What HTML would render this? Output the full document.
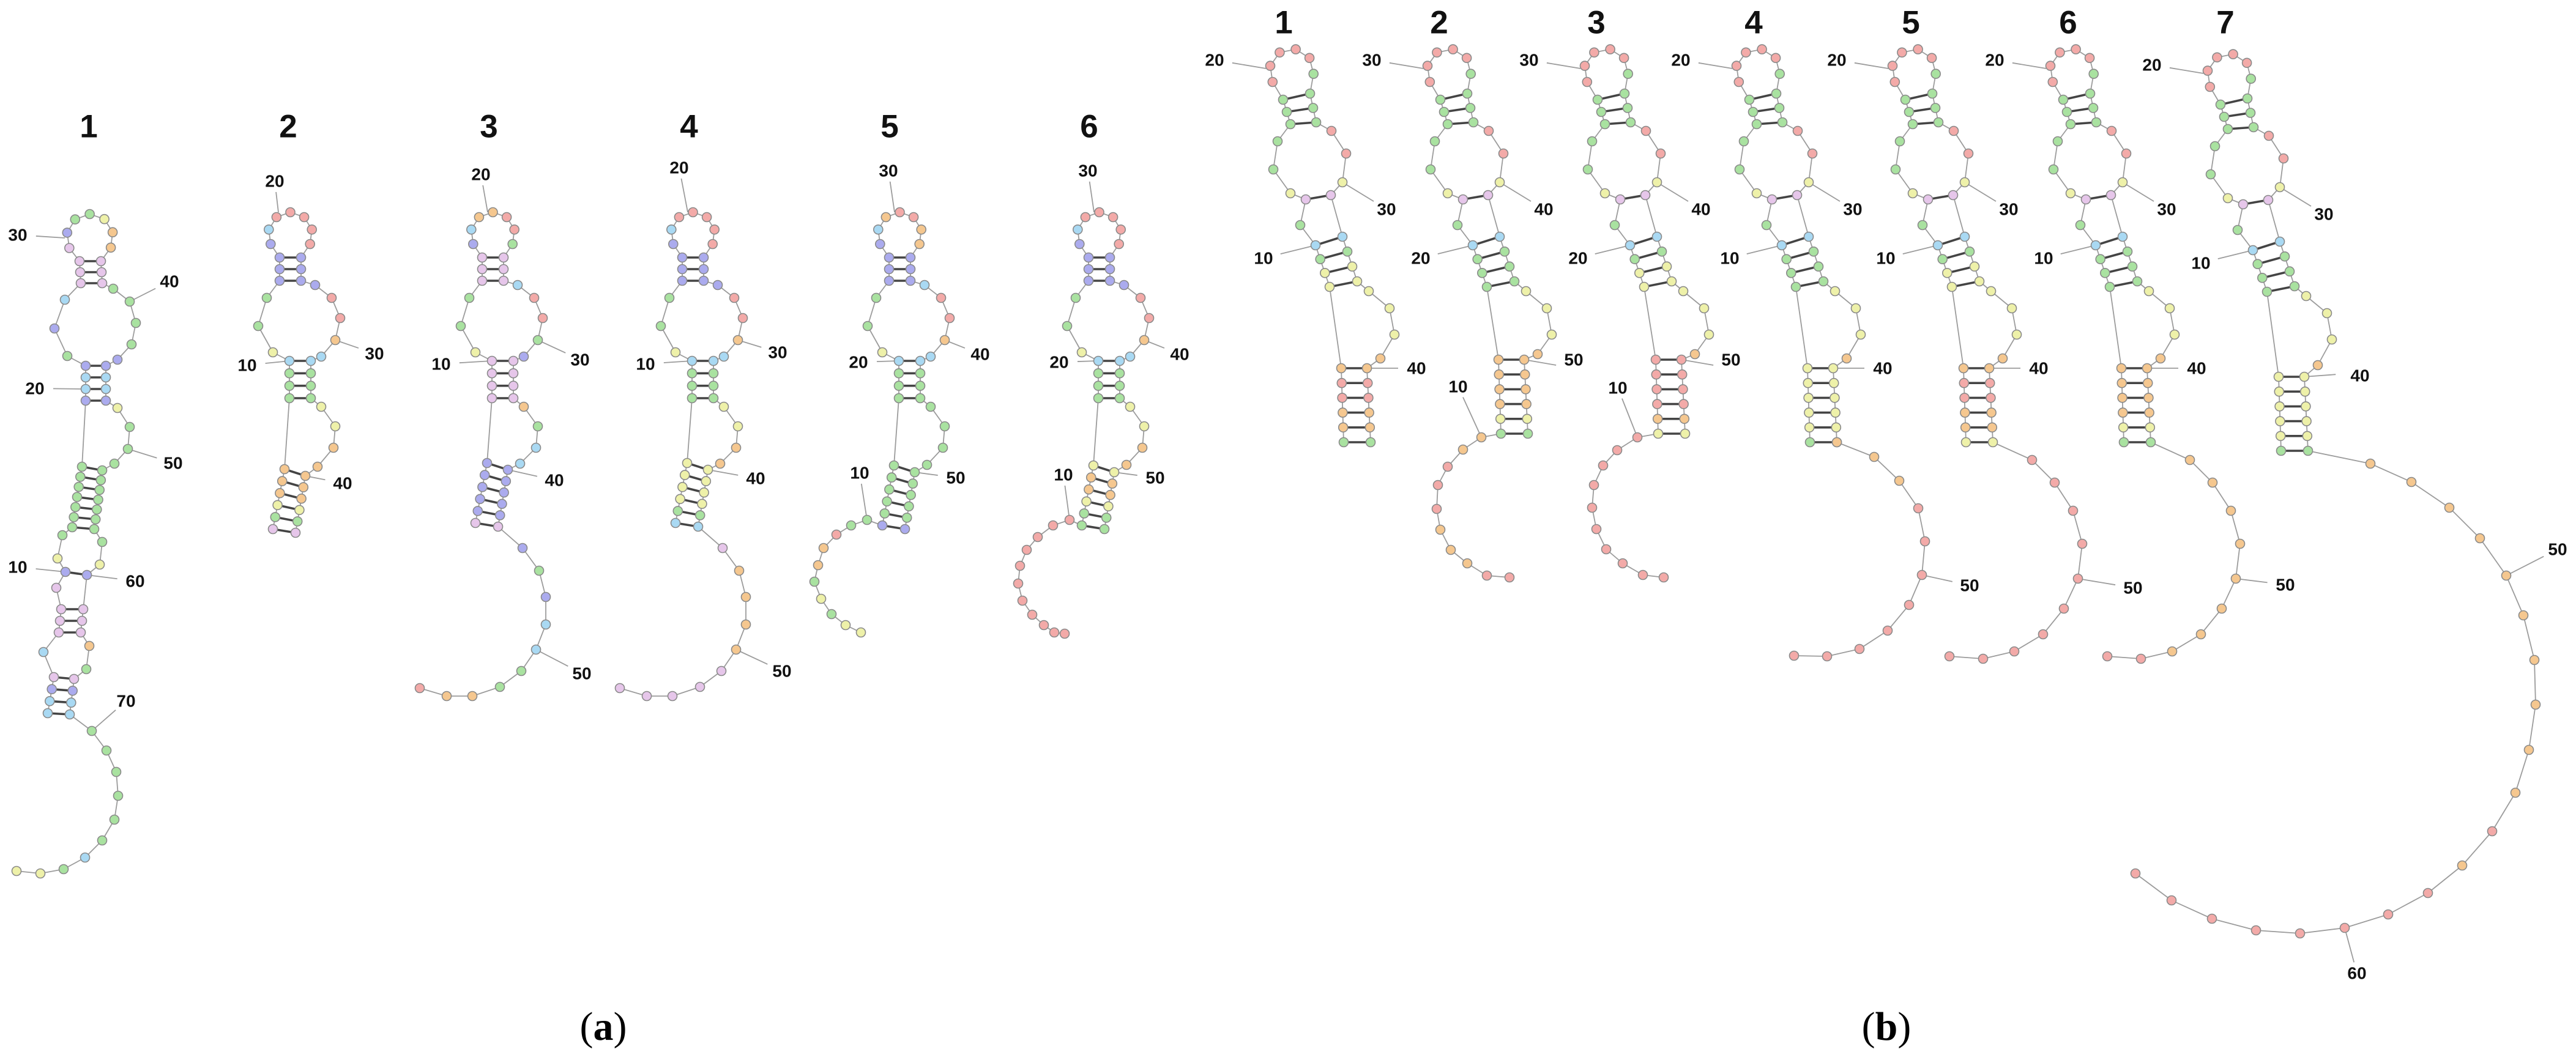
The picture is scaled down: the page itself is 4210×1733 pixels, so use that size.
<!DOCTYPE html>
<html><head><meta charset="utf-8"><style>
html,body{margin:0;padding:0;background:#fff;}
svg{display:block;}
.t{font-family:"Liberation Sans",Arial,sans-serif;font-weight:bold;font-size:53px;text-anchor:middle;dominant-baseline:central;fill:#111;}
.l{font-family:"Liberation Sans",Arial,sans-serif;font-weight:bold;font-size:28px;text-anchor:middle;dominant-baseline:central;fill:#111;}
.c{font-family:"Liberation Serif","Times New Roman",serif;font-size:66px;text-anchor:middle;fill:#000;}
</style></head><body>
<svg id="s" xmlns="http://www.w3.org/2000/svg" width="4210" height="1733" viewBox="0 0 4210 1733">
<rect width="4210" height="1733" fill="#fff"/>
<g id="g"></g>
<g>
<text class="t" x="145" y="207">1</text><text class="t" x="471" y="207">2</text><text class="t" x="799" y="207">3</text>
<text class="t" x="1126" y="207">4</text><text class="t" x="1454" y="207">5</text><text class="t" x="1780" y="207">6</text>
<text class="t" x="2098" y="37">1</text><text class="t" x="2352" y="37">2</text><text class="t" x="2609" y="37">3</text>
<text class="t" x="2866" y="37">4</text><text class="t" x="3123" y="37">5</text><text class="t" x="3380" y="37">6</text><text class="t" x="3637" y="37">7</text>

<text class="l" x="29" y="384">30</text><text class="l" x="277" y="460">40</text><text class="l" x="57" y="635">20</text><text class="l" x="283" y="757">50</text><text class="l" x="29" y="927">10</text><text class="l" x="221" y="950">60</text><text class="l" x="206" y="1146">70</text>
<text class="l" x="449" y="296">20</text><text class="l" x="404" y="597">10</text><text class="l" x="612" y="578">30</text><text class="l" x="560" y="790">40</text>
<text class="l" x="786" y="285">20</text><text class="l" x="721" y="595">10</text><text class="l" x="948" y="588">30</text><text class="l" x="906" y="785">40</text><text class="l" x="951" y="1101">50</text>
<text class="l" x="1110" y="274">20</text><text class="l" x="1055" y="595">10</text><text class="l" x="1271" y="576">30</text><text class="l" x="1235" y="782">40</text><text class="l" x="1278" y="1097">50</text>
<text class="l" x="1452" y="279">30</text><text class="l" x="1403" y="592">20</text><text class="l" x="1602" y="579">40</text><text class="l" x="1562" y="781">50</text><text class="l" x="1405" y="773">10</text>
<text class="l" x="1778" y="279">30</text><text class="l" x="1731" y="592">20</text><text class="l" x="1928" y="579">40</text><text class="l" x="1888" y="781">50</text><text class="l" x="1738" y="776">10</text>

<text class="l" x="1985" y="98">20</text><text class="l" x="2266" y="342">30</text><text class="l" x="2065" y="422">10</text><text class="l" x="2315" y="602">40</text>
<text class="l" x="2242" y="98">30</text><text class="l" x="2523" y="342">40</text><text class="l" x="2322" y="422">20</text><text class="l" x="2572" y="588">50</text><text class="l" x="2383" y="632">10</text>
<text class="l" x="2499" y="98">30</text><text class="l" x="2780" y="342">40</text><text class="l" x="2579" y="422">20</text><text class="l" x="2829" y="588">50</text><text class="l" x="2644" y="634">10</text>
<text class="l" x="2747" y="98">20</text><text class="l" x="3028" y="342">30</text><text class="l" x="2827" y="422">10</text><text class="l" x="3077" y="602">40</text><text class="l" x="3219" y="957">50</text>
<text class="l" x="3002" y="98">20</text><text class="l" x="3283" y="342">30</text><text class="l" x="3082" y="422">10</text><text class="l" x="3332" y="602">40</text><text class="l" x="3486" y="961">50</text>
<text class="l" x="3260" y="98">20</text><text class="l" x="3541" y="342">30</text><text class="l" x="3340" y="422">10</text><text class="l" x="3590" y="602">40</text><text class="l" x="3735" y="956">50</text>
<text class="l" x="3517" y="106">20</text><text class="l" x="3798" y="350">30</text><text class="l" x="3597" y="430">10</text><text class="l" x="3857" y="614">40</text><text class="l" x="4180" y="898">50</text><text class="l" x="3852" y="1591">60</text>

<text class="c" x="986" y="1700">(<tspan font-weight="bold">a</tspan>)</text>
<text class="c" x="3083" y="1700">(<tspan font-weight="bold">b</tspan>)</text>
</g>
</svg>
<script>
const R='#f3aaa8',G='#a9e2a0',B='#ababee',LB='#a9d9f3',Y='#eef1a9',O='#f5c78f',P='#e6c6ea';
let L=[],BR=[],N=[];
const col=(c,i)=>Array.isArray(c)?c[i%c.length]:c;
function line(a,b){L.push(`<line x1="${a[0]}" y1="${a[1]}" x2="${b[0]}" y2="${b[1]}" stroke="#9c9c9c" stroke-width="1.8"/>`);}
function bar(a,b){BR.push(`<line x1="${a[0]}" y1="${a[1]}" x2="${b[0]}" y2="${b[1]}" stroke="#444" stroke-width="3.6"/>`);}
function nd(p,c){N.push(`<circle cx="${p[0].toFixed(1)}" cy="${p[1].toFixed(1)}" r="7.5" fill="${c}" stroke="#8a8a8a" stroke-width="1.6"/>`);}
function chain(pts,c,skipF,skipL){let k=0;for(let i=0;i<pts.length;i++){if(i>0)line(pts[i-1],pts[i]);}
 for(let i=0;i<pts.length;i++){if(i==0&&skipF)continue;if(i==pts.length-1&&skipL)continue;nd(pts[i],col(c,k++));}}
function ladder(lt,rt,lb,rb,n,c){let pl=null,pr=null;const ps=[];
 for(let i=0;i<n;i++){const t=n>1?i/(n-1):0;const l=[lt[0]+(lb[0]-lt[0])*t,lt[1]+(lb[1]-lt[1])*t],r=[rt[0]+(rb[0]-rt[0])*t,rt[1]+(rb[1]-rt[1])*t];
 bar(l,r);if(pl){line(pl,l);line(pr,r);}pl=l;pr=r;ps.push([l,r,col(c,i)]);}
 ps.forEach(p=>{nd(p[0],p[2]);nd(p[1],p[2]);});}
function loop(cen,r,st,en,n,c){let a0=Math.atan2(st[1]-cen[1],st[0]-cen[0]),a1=Math.atan2(en[1]-cen[1],en[0]-cen[0]);
 while(a1<=a0)a1+=2*Math.PI;const pts=[st];for(let i=1;i<=n;i++){const a=a0+(a1-a0)*i/(n+1);pts.push([cen[0]+r*Math.cos(a),cen[1]+r*Math.sin(a)]);}
 pts.push(en);chain(pts,c,true,true);}
function lead(lx,ly,nx,ny){const dx=nx-lx,dy=ny-ly,d=Math.hypot(dx,dy),ux=dx/d,uy=dy/d;
 const k=1/Math.sqrt((ux/30)**2+(uy/18)**2);line([lx+ux*k,ly+uy*k],[nx,ny]);}

/* ---------- a1 ---------- */
loop([147,388],38,[130,427],[165,427],7,[P,B,G,G,Y,O,O]);
ladder([130,427],[165,427],[132,463],[167,463],3,P);
chain([[132,463],[106,490],[89,537],[110,582],[140,598]],[LB,B,G],true,true);
chain([[173,598],[192,588],[215,563],[222,528],[212,493],[185,472],[167,463]],[B,G,G,G,G,P],true,true);
ladder([140,598],[173,598],[140,655],[173,655],4,[B,LB,LB,B]);
chain([[173,655],[192,667],[212,698],[209,734],[187,758],[167,769]],[Y,G,G,G],true,true);
line([140,655],[134,763]);
ladder([134,763],[167,769],[118,862],[154,865],7,G);
chain([[118,862],[102,875],[94,913],[107,935]],[G,Y,B],true,false);
chain([[154,865],[167,886],[163,923],[142,940]],[G,Y,B],true,false);
bar([107,935],[142,940]);
chain([[107,935],[92,961],[100,996]],[P],true,true);
line([142,940],[136,996]);
ladder([100,996],[136,996],[96,1034],[132,1034],3,P);
chain([[96,1034],[71,1066],[88,1107]],[LB],true,true);
chain([[132,1034],[146,1056],[141,1094],[121,1110]],[O,G],true,true);
ladder([88,1107],[121,1110],[78,1166],[114,1168],4,[P,B,LB,LB]);
chain([[114,1168],[150,1195],[174,1227],[190,1262],[193,1301],[187,1340],[167,1374],[139,1402],[104,1421],[66,1428],[27,1424]],[G,G,G,G,G,G,LB,G,Y,Y],true,false);
[[29,384,106,389],[277,460,212,493],[57,635,140,636],[283,757,209,734],[29,927,107,935],[221,950,142,940],[206,1146,150,1195]].forEach(a=>lead(...a));

/* ---------- template A ---------- */
function drawA(dx,dy3,c,tail,fromLeft){
 const s=(x,y,d=0)=>[x+dx,y+d];
 loop([805.5+dx,383],36,s(788,421),s(823,421),7,c.top);
 ladder(s(788,421),s(823,421),s(788,459),s(823,459),3,c.s1);
 chain([s(788,459),s(767,487),s(753,533),s(777,576),s(804,590)],c.left,true,true);
 chain([s(839,590),s(856,583),s(879,556),s(887,520),s(873,487),s(846,466),s(823,459)],c.right,true,true);
 ladder(s(804,590),s(839,590),s(804,651),s(839,651),4,c.s2);
 chain([s(839,651),s(856,665),s(879,697),s(876,732),s(850,758,dy3*0.5),s(830,768,dy3)],c.bulge,true,true);
 line(s(804,651),s(796,757,dy3));
 ladder(s(796,757,dy3),s(830,768,dy3),s(777,855,dy3),s(814,861,dy3),6,c.s3);
 if(tail)chain([fromLeft?s(777,855,dy3):s(814,861,dy3)].concat(tail),c.tail,true,false);
}
const a3tail=[[854,896],[881,933],[892,976],[892,1021],[876,1062],[852,1097],[817,1123],[772,1138],[730,1138],[686,1125]];
drawA(-331,10,{top:[B,LB,R,R,R,R,R],s1:B,left:[G,G,Y],right:[LB,O,R,R,B],s2:[LB,G,G,G],bulge:[Y,Y,O,O],s3:[O,O,O,Y,G,P]},null);
drawA(0,0,{top:[B,LB,O,O,R,R,G],s1:P,left:[G,G,Y],right:[B,G,R,R,LB],s2:P,bulge:[O,G,LB,LB],s3:[B,B,B,B,B,P],tail:[B,G,B,LB,LB,G,G,O,O,R]},a3tail,false);
drawA(327,0,{top:[B,LB,R,R,R,R,R],s1:B,left:[G,G,Y],right:[LB,O,R,R,B],s2:[LB,G,G,G],bulge:[Y,Y,O,O],s3:[Y,Y,Y,Y,G,LB],tail:[P,O,O,O,O,P,P,P,P,P]},a3tail.map(p=>[p[0]+327,p[1]]),false);
drawA(665,4,{top:[B,LB,O,R,R,O,O],s1:B,left:[G,G,Y],right:[LB,O,R,R,LB],s2:[LB,G,G,G],bulge:G,s3:[G,G,G,G,G,B],tail:[G,G,R,O,O,G,Y,G,Y,Y]},[[1417,850],[1391,859],[1367,874],[1346,896],[1337,924],[1331,951],[1342,979],[1359,1004],[1382,1022],[1407,1034]],true);
drawA(991,4,{top:[B,LB,R,R,R,R,R],s1:B,left:[G,G,Y],right:[LB,O,R,R,B],s2:[LB,G,G,G],bulge:[Y,Y,O,O],s3:[Y,O,O,Y,G,G],tail:R},[[1748,850],[1721,859],[1696,878],[1678,899],[1667,925],[1664,954],[1671,982],[1687,1005],[1706,1022],[1723,1034],[1740,1036]],true);
[[449,296,455,347],[404,597,474,590],[612,578,548,556],[560,790,499,778],
 [786,285,797,347],[721,595,804,590],[948,588,879,556],[906,785,830,768],[951,1101,876,1062],
 [1110,274,1124,347],[1055,595,1131,590],[1271,576,1206,556],[1235,782,1157,768],[1278,1097,1203,1062],
 [1452,279,1462,347],[1403,592,1469,590],[1602,579,1544,556],[1562,781,1495,772],[1405,773,1417,850],
 [1778,279,1788,347],[1731,592,1795,590],[1928,579,1870,556],[1888,781,1821,772],[1738,776,1748,850]].forEach(a=>lead(...a));

/* ---------- template B ---------- */
function drawB(dx,dy,dy3,c,tail,fromLeft){
 const s=(x,y,d=0)=>[x+dx,y+dy+d];
 loop([3128+dx,116+dy],36,s(3114,163),s(3158,153),6,[R,R,R,R,R,G]);
 ladder(s(3114,163),s(3158,153),s(3126,203),s(3168,200),3,G);
 chain([s(3126,203),s(3105,231),s(3098,277),s(3126,316),s(3151,326)],[G,G,Y],true,true);
 chain([s(3192,319),s(3211,298),s(3217,251),s(3193,214),s(3168,200)],[Y,R,R],true,true);
 bar(s(3151,326),s(3192,319));nd(s(3151,326),P);nd(s(3192,319),P);
 chain([s(3151,326),s(3142,368),s(3167,401)],[G],true,true);
 line(s(3192,319),s(3211,387));
 ladder(s(3167,401),s(3211,387),s(3190,469),s(3235,460),4,c.s2);
 chain([s(3235,460),s(3254,476),s(3288,504),s(3296,547),s(3273,586,dy3*0.5),s(3251,602,dy3)],[Y,Y,Y,O],true,true);
 line(s(3190,469),s(3209,602,dy3));
 ladder(s(3209,602,dy3),s(3251,602,dy3),s(3213,723,dy3),s(3257,723,dy3),6,c.s3);
 if(tail)chain([fromLeft?s(3213,723,dy3):s(3257,723,dy3)].concat(tail),c.tail,true,false);
 const lp=[[3002,98,3086,112],[3283,342,3211,298],[3082,422,3167,401],[3332,602,3251,602+dy3]];
 lp.forEach(a=>lead(a[0]+dx,a[1]+dy,a[2]+dx,a[3]+dy));
}
const b5tail=[[3321,752],[3358,789],[3388,835],[3403,889],[3396,946],[3373,995],[3339,1037],[3292,1065],[3241,1077],[3186,1073]];
drawB(-1017,0,0,{s2:[LB,G,Y,Y],s3:[O,R,R,O,O,G]},null);
drawB(-760,0,-14,{s2:[LB,G,G,G],s3:[O,O,O,O,Y,G],tail:[O,O,R,R,R,O,O,O,R,R]},[[2421,715],[2391,735],[2366,763],[2350,793],[2348,832],[2354,866],[2371,899],[2398,921],[2430,941],[2467,944]],true);
drawB(-503,0,-14,{s2:[LB,G,Y,Y],s3:[R,R,R,R,O,Y],tail:R},[[2676,715],[2643,736],[2620,761],[2605,793],[2602,830],[2609,865],[2625,898],[2652,921],[2685,940],[2719,944]],true);
drawB(-255,0,0,{s2:[LB,G,G,G],s3:[Y,Y,Y,Y,Y,G],tail:[O,O,O,R,R,R,R,R,R,R,R]},[[3002,723],[3063,747],[3104,786],[3135,831],[3146,885],[3141,940],[3120,989],[3085,1031],[3039,1061],[2986,1073],[2932,1072]],false);
drawB(0,0,0,{s2:[LB,G,Y,Y],s3:[O,R,R,O,O,Y],tail:R},b5tail,false);
drawB(258,0,0,{s2:[LB,G,G,G],s3:[O,O,O,O,Y,G],tail:[O,O,O,O,O,O,O,O,R,R]},b5tail.map(p=>[p[0]+258,p[1]]),false);
drawB(515,8,6,{s2:[LB,G,G,G],s3:[Y,Y,Y,Y,Y,G],tail:[O,O,O,O,O,O,O,O,O,O,R,O,R,R,R,R,R,R,R,R]},[[3874,758],[3941,788],[4003,830],[4053,880],[4096,941],[4124,1006],[4142,1079],[4144,1152],[4133,1226],[4111,1296],[4073,1359],[4024,1415],[3968,1460],[3903,1495],[3832,1517],[3759,1526],[3687,1521],[3615,1502],[3549,1472],[3490,1428]],false);
[[2383,632,2421,715],[2644,634,2676,715],[3219,957,3141,940],[3486,961,3396,946],[3735,956,3654,946],[4180,898,4096,941],[3852,1591,3832,1517]].forEach(a=>lead(...a));

document.getElementById('g').innerHTML=L.join('')+BR.join('')+N.join('');
</script>
</body></html>
